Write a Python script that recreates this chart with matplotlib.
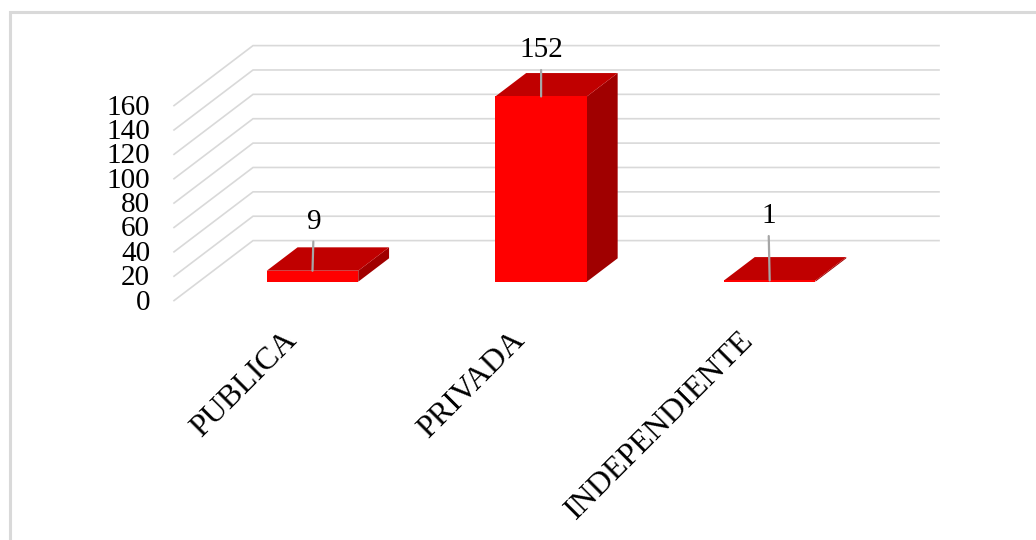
import matplotlib
matplotlib.use("Agg")
import matplotlib.pyplot as plt
from matplotlib.patches import Polygon

categories = ["PUBLICA", "PRIVADA", "INDEPENDIENTE"]
values = [9, 152, 1]
y_ticks = [0, 20, 40, 60, 80, 100, 120, 140, 160]

# label positions, offset from the top of each bar (points)
label_offsets = [(1, 26), (0, 24), (-1, 37)]

W, H = 1036, 540
SLOT = 228.6        # px between categories
UNIT = 1.21875      # px per value unit
X0 = 312.5          # px of first category centre
Y0 = 281.7          # px of value 0 on the bar front plane
BAR_W = 91.5 / SLOT
DEPTH_X = 79 / SLOT
DEPTH_Y = 60 / UNIT
BAR_FRONT = 0.315
BAR_BACK = 0.705

GRID = "#d9d9d9"
FACE = "#ff0000"
TOP = "#c00000"
SIDE = "#a00000"

plt.rcParams["font.family"] = ["Liberation Serif", "DejaVu Serif"]

fig = plt.figure(figsize=(W / 100, H / 100), dpi=100)
ax = fig.add_axes([0, 0, 1, 1])
ax.set_xlim(-X0 / SLOT, (W - X0) / SLOT)
ax.set_ylim(-(H - Y0) / UNIT, Y0 / UNIT)
ax.axis("off")


def proj(x, v, d):
    # oblique projection, d=0 is the front of the floor, d=1 the back wall
    return (x + (d - BAR_FRONT) * DEPTH_X, v + (d - BAR_FRONT) * DEPTH_Y)


# gridlines: slanted along the side wall, then across the back
x_left = (174 + 24.9 - X0) / SLOT
x_right = (939 - 79 + 24.9 - X0) / SLOT
for t in y_ticks:
    a = proj(x_left, t, 0)
    b = proj(x_left, t, 1)
    c = proj(x_right, t, 1)
    ax.plot([a[0], b[0], c[0]], [a[1], b[1], c[1]], color=GRID, lw=1.2,
            solid_joinstyle="miter", zorder=1)
    ax.text(a[0] - 24 / SLOT, a[1] + 0.8, str(t), ha="right", va="center_baseline", fontsize=21)

# bars
for i, v in enumerate(values):
    l, r = i - BAR_W / 2, i + BAR_W / 2
    front = [proj(l, 0, BAR_FRONT), proj(r, 0, BAR_FRONT), proj(r, v, BAR_FRONT), proj(l, v, BAR_FRONT)]
    side = [proj(r, 0, BAR_FRONT), proj(r, 0, BAR_BACK), proj(r, v, BAR_BACK), proj(r, v, BAR_FRONT)]
    top = [proj(l, v, BAR_FRONT), proj(r, v, BAR_FRONT), proj(r, v, BAR_BACK), proj(l, v, BAR_BACK)]
    ax.add_patch(Polygon(side, closed=True, facecolor=SIDE, edgecolor="none", zorder=2))
    ax.add_patch(Polygon(top, closed=True, facecolor=TOP, edgecolor="none", zorder=2))
    ax.add_patch(Polygon(front, closed=True, facecolor=FACE, edgecolor="none", zorder=3))

    dx, dy = label_offsets[i]
    ax.annotate(str(v), xy=(i, v), xytext=(dx, dy), textcoords="offset points",
                ha="center", va="bottom", fontsize=21, zorder=5,
                arrowprops=dict(arrowstyle="-", color="#a6a6a6", lw=1.6, shrinkA=3, shrinkB=0))

    # category names sit under the bar, rotated 45 degrees
    ax.annotate(categories[i], xy=(i, 0), xytext=(-22, -32), textcoords="offset points",
                rotation=45, rotation_mode="anchor", ha="right", va="top", fontsize=23)

# panel border along the top and left
fig.add_artist(plt.Line2D([9.5 / W, 9.5 / W, 1], [0, 1 - 11.5 / H, 1 - 11.5 / H],
                          color=GRID, lw=2.2, solid_joinstyle="miter"))

fig.savefig("out.png", dpi=100)
